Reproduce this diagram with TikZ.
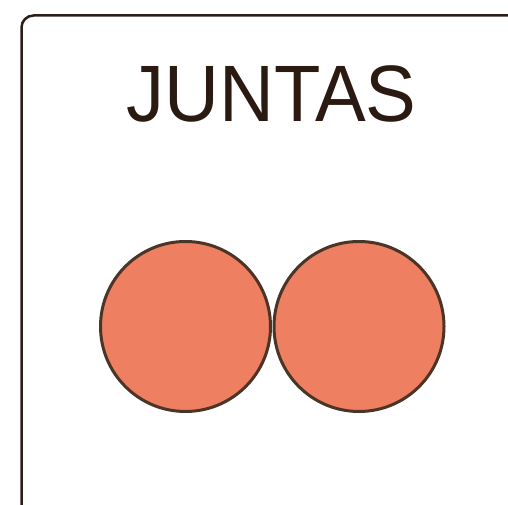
\documentclass[tikz,border=0pt]{standalone}
\usepackage{fontspec}
\setmainfont{Liberation Sans}
\definecolor{framecol}{HTML}{2A1F18}
\definecolor{textcol}{HTML}{2A1A12}
\definecolor{ballfill}{HTML}{EE7F61}
\definecolor{ballline}{HTML}{4A3526}
\begin{document}
\begin{tikzpicture}[x=1pt,y=1pt,
  ball/.style={circle, draw=ballline, fill=ballfill, line width=3pt, minimum size=170pt, inner sep=0pt},
  frame/.style={draw=framecol, line width=2.5pt, rounded corners=12pt}]
\useasboundingbox (0,0) rectangle (508,505);
\clip (0,0) rectangle (508,505);
\draw[frame] (21.5,-30) -- (21.5,489.5) -- (540,489.5);
\node[anchor=base, text=textcol, font=\fontsize{80}{80}\selectfont, inner sep=0pt, xscale=0.95] (title) at (271.5,383) {JUNTAS};
\node[ball] (left) at (185.5,178.5) {};
\node[ball] (right) at (359,178.5) {};
\end{tikzpicture}
\end{document}
